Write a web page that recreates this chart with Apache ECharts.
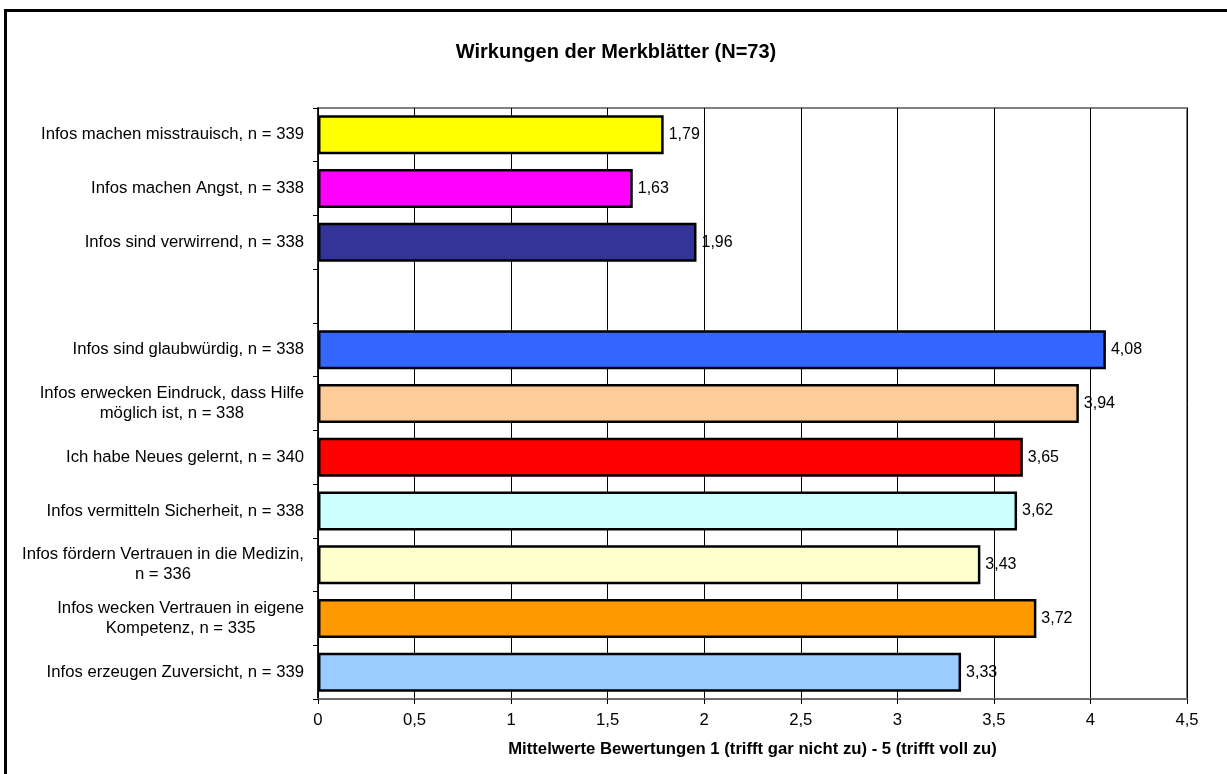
<!DOCTYPE html>
<html>
<head>
<meta charset="utf-8">
<title>Wirkungen der Merkblätter</title>
<script src="https://cdn.jsdelivr.net/npm/echarts@6/dist/echarts.min.js"></script>
<style>
  html, body { margin: 0; padding: 0; background: #ffffff; }
  #chart { width: 1227px; height: 774px; }
</style>
</head>
<body>
<div id="chart"></div>
<script>
// Items from top to bottom; the empty entry separates the two groups.
const categories = [
  'Infos machen misstrauisch, n = 339',
  'Infos machen Angst, n = 338',
  'Infos sind verwirrend, n = 338',
  '',
  'Infos sind glaubwürdig, n = 338',
  'Infos erwecken Eindruck, dass Hilfe\nmöglich ist, n = 338',
  'Ich habe Neues gelernt, n = 340',
  'Infos vermitteln Sicherheit, n = 338',
  'Infos fördern Vertrauen in die Medizin,\nn = 336',
  'Infos wecken Vertrauen in eigene\nKompetenz, n = 335',
  'Infos erzeugen Zuversicht, n = 339'
];
const meanValues = [1.79, 1.63, 1.96, null, 4.08, 3.94, 3.65, 3.62, 3.43, 3.72, 3.33];
const barColors = [
  '#FFFF00', '#FF00FF', '#333399', '#FFFFFF',
  '#3366FF', '#FFCC99', '#FF0000', '#CCFFFF', '#FFFFCC', '#FF9900', '#99CCFF'
];
const xTicks = { min: 0, max: 4.5, interval: 0.5 };
const chartTitle = 'Wirkungen der Merkblätter (N=73)';
const xAxisTitle = 'Mittelwerte Bewertungen 1 (trifft gar nicht zu) - 5 (trifft voll zu)';

const FONT = '"Liberation Sans", Arial, Helvetica, sans-serif';
const deComma = v => String(v).replace('.', ',');

const chart = echarts.init(document.getElementById('chart'), null, { renderer: 'canvas' });

chart.setOption({
  animation: false,
  backgroundColor: '#ffffff',
  grid: { left: 318, right: 40, top: 108, bottom: 75, show: true, borderColor: '#808080', borderWidth: 2, backgroundColor: 'transparent' },
  graphic: [
    {
      type: 'rect', z: 100, silent: true,
      shape: { x: 5.5, y: 10.5, width: 1400, height: 900 },
      style: { fill: 'none', stroke: '#000000', lineWidth: 3 }
    },
    {
      type: 'text', z: 100, silent: true,
      x: 616, y: 52,
      style: {
        text: chartTitle, fill: '#000000',
        font: 'bold 20px ' + FONT,
        textAlign: 'center', textVerticalAlign: 'middle'
      }
    }
  ],
  xAxis: {
    type: 'value',
    min: xTicks.min, max: xTicks.max, interval: xTicks.interval,
    name: xAxisTitle,
    nameLocation: 'middle',
    nameGap: 42,
    nameTextStyle: { fontFamily: FONT, fontSize: 16.7, fontWeight: 'bold', color: '#000000' },
    axisLine: { show: true, lineStyle: { color: '#6e6e6e', width: 2 } },
    axisTick: { show: true, length: 5, lineStyle: { color: '#000000', width: 1 } },
    axisLabel: { margin: 13, fontFamily: FONT, fontSize: 16.7, color: '#000000', formatter: deComma },
    splitLine: { show: true, lineStyle: { color: '#000000', width: 1 } }
  },
  yAxis: {
    type: 'category',
    data: categories,
    inverse: true,
    axisLine: { show: true, lineStyle: { color: '#000000', width: 1.5 } },
    axisTick: { show: true, length: 5, lineStyle: { color: '#000000', width: 1 } },
    axisLabel: {
      margin: 14,
      interval: 0,
      lineHeight: 20,
      formatter: v => v ? v.split('\n').map(s => '{c|' + s + '}').join('\n') : '',
      rich: {
        c: { fontFamily: FONT, fontSize: 16.7, color: '#000000', align: 'center', lineHeight: 20 }
      }
    },
    splitLine: { show: false }
  },
  series: [{
    type: 'bar',
    data: meanValues.map((v, i) => ({
      value: v === null ? '-' : v,
      itemStyle: { color: barColors[i] }
    })),
    barWidth: 39,
    itemStyle: { borderColor: '#000000', borderWidth: 2.5 },
    label: {
      show: true,
      position: 'right',
      distance: 5,
      fontFamily: FONT,
      fontSize: 16,
      color: '#000000',
      formatter: p => (typeof p.value === 'number') ? p.value.toFixed(2).replace('.', ',') : ''
    }
  }]
});
</script>
</body>
</html>
